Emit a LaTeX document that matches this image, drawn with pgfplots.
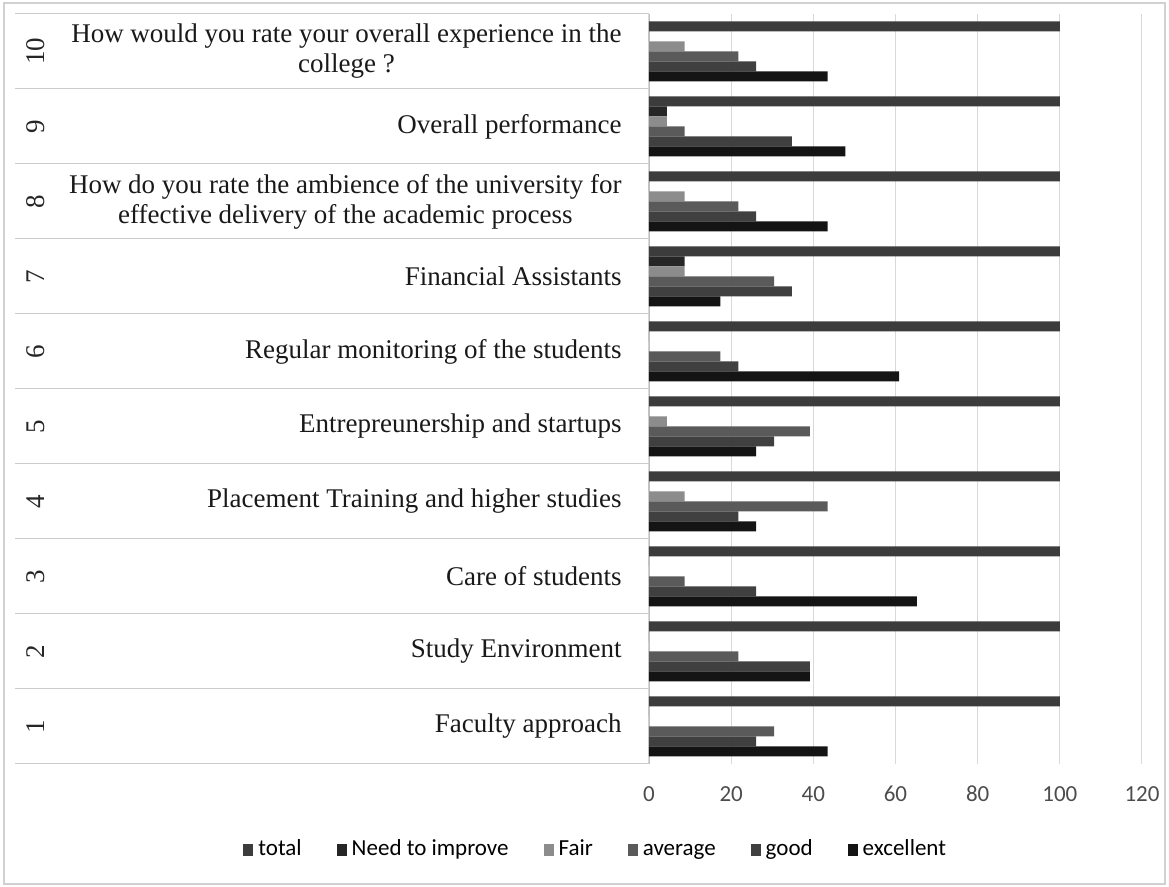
\documentclass[border=0pt]{standalone}
\usepackage{pgfplots}
\pgfplotsset{compat=1.18}
\usepackage{fontspec}
\setmainfont{Liberation Serif}
\newfontfamily\calfont{Carlito}
\definecolor{ctotal}{HTML}{3C3C3C}
\definecolor{cneed}{HTML}{262626}
\definecolor{cfair}{HTML}{8C8C8C}
\definecolor{cavg}{HTML}{5A5A5A}
\definecolor{cgood}{HTML}{404040}
\definecolor{cexc}{HTML}{141414}
\begin{document}
\begin{tikzpicture}
\useasboundingbox (0,0) rectangle (584.5pt,443.5pt);
\draw[color=black!18, line width=0.6pt] (2pt,1.5pt) rectangle (582.5pt,442pt);
\begin{axis}[
  at={(324.5pt,61.5pt)}, anchor=south west,
  scale only axis, width=246.5pt, height=375pt,
  xbar, bar width=5pt,
  xmin=0, xmax=120, ymin=0.5, ymax=10.5,
  xtick={0,20,...,120},
  ytick={1,...,10},
  yticklabels={Faculty approach, Study Environment, Care of students, Placement Training and higher studies, Entrepreunership and startups, Regular monitoring of the students, Financial Assistants, {How do you rate the ambience of the university for\\effective delivery of the academic process}, Overall performance, {How would you rate your overall experience in the\\college ?}},
  xmajorgrids, major grid style={color=black!15, line width=0.5pt},
  axis line style={draw=none},
  major tick length=0pt,
  /pgf/number format/assume math mode=true,
  xticklabel style={font=\calfont\fontsize{11.5}{13}\selectfont, color=black!70, inner sep=0pt, text height=1.5ex, text depth=0.2ex, anchor=north, yshift=-11.5pt},
  yticklabel style={font=\fontsize{13.5}{15}\selectfont, align=center, inner sep=0pt, xshift=-13.5pt, color=black!90},
  clip=false,
  legend columns=6,
  legend style={at={(-0.105,-0.115)}, anchor=center, draw=none, fill=none,
    font=\calfont\fontsize{11.5}{13}\selectfont,
    nodes={text height=1.6ex, text depth=0.45ex, inner xsep=2.5pt},
    /tikz/every even column/.append style={column sep=15pt}},
  legend image code/.code={\fill[#1] (0pt,-2.9pt) rectangle (5pt,2.9pt);},
]
\draw[black!25] (axis cs:0,0.5) -- (axis cs:0,10.5);
\pgfplotsinvokeforeach{0.5,1.5,2.5,3.5,4.5,5.5,6.5,7.5,8.5,9.5,10.5}{
  \draw[black!20, line width=0.5pt] (axis cs:0,#1) -- ([xshift=-317pt]axis cs:0,#1);
}
\pgfplotsinvokeforeach{1,...,10}{
  \node[rotate=90, font=\fontsize{13.5}{15}\selectfont, color=black!85] at ([xshift=-306.5pt]axis cs:0,#1) {#1};
}
\addplot[fill=ctotal, draw=none, bar shift=12.5pt] coordinates {(100,1) (100,2) (100,3) (100,4) (100,5) (100,6) (100,7) (100,8) (100,9) (100,10)};
\addplot[fill=cneed, draw=none, bar shift=7.5pt] coordinates {(0,1) (0,2) (0,3) (0,4) (0,5) (0,6) (8.70,7) (0,8) (4.35,9) (0,10)};
\addplot[fill=cfair, draw=none, bar shift=2.5pt] coordinates {(0,1) (0,2) (0,3) (8.70,4) (4.35,5) (0,6) (8.70,7) (8.70,8) (4.35,9) (8.70,10)};
\addplot[fill=cavg, draw=none, bar shift=-2.5pt] coordinates {(30.43,1) (21.74,2) (8.70,3) (43.48,4) (39.13,5) (17.39,6) (30.43,7) (21.74,8) (8.70,9) (21.74,10)};
\addplot[fill=cgood, draw=none, bar shift=-7.5pt] coordinates {(26.09,1) (39.13,2) (26.09,3) (21.74,4) (30.43,5) (21.74,6) (34.78,7) (26.09,8) (34.78,9) (26.09,10)};
\addplot[fill=cexc, draw=none, bar shift=-12.5pt] coordinates {(43.48,1) (39.13,2) (65.22,3) (26.09,4) (26.09,5) (60.87,6) (17.39,7) (43.48,8) (47.83,9) (43.48,10)};
\legend{total, Need to improve, Fair, average, good, excellent}
\end{axis}
\end{tikzpicture}
\end{document}
